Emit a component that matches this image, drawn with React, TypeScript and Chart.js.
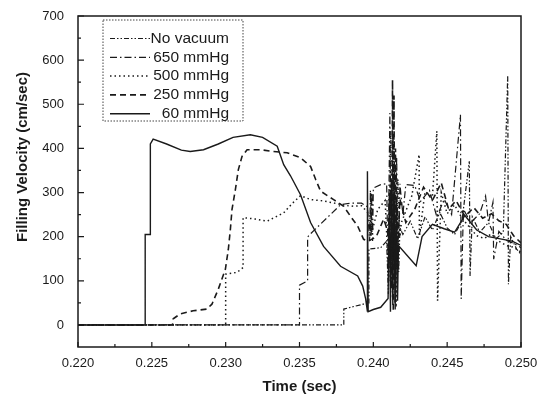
import { useEffect, useRef } from "react";
import { Chart, registerables } from "chart.js";

Chart.register(...registerables);

const FONT = '"Liberation Sans", Arial, Helvetica, sans-serif';
const INK = "#1a1a1a";

const X_TITLE = "Time (sec)";
const Y_TITLE = "Filling Velocity (cm/sec)";
const X_TICKS = [0.22, 0.225, 0.23, 0.235, 0.24, 0.245, 0.25];
const Y_TICKS = [0, 100, 200, 300, 400, 500, 600, 700];
const SERIES_LABELS = ["No vacuum", "650 mmHg", "500 mmHg", "250 mmHg", "60 mmHg"];

const NO_VACUUM: [number, number][] = [
  [0.22, 0], [0.238, 0], [0.238, 36], [0.2393, 47], [0.2397, 47], [0.2397, 172], [0.2405, 175],
  [0.2409, 190], [0.24102, 70], [0.24114, 320], [0.24126, 90], [0.24138, 290], [0.2415, 60],
  [0.24162, 260], [0.24172, 120], [0.2418, 220], [0.242, 205], [0.2425, 235], [0.243, 195],
  [0.2435, 245], [0.244, 215], [0.2445, 255], [0.245, 220], [0.2455, 205], [0.246, 235],
  [0.2465, 371], [0.24655, 111], [0.2467, 245], [0.2472, 210], [0.2478, 232], [0.2483, 195],
  [0.2488, 210], [0.2491, 565], [0.24915, 92], [0.2493, 200], [0.2497, 172], [0.25, 160],
];

const MMHG_650: [number, number][] = [
  [0.22, 0], [0.235, 0], [0.235, 90], [0.23555, 100], [0.23555, 199], [0.2357, 205], [0.2378, 273],
  [0.2385, 276], [0.2392, 276], [0.2396, 268], [0.23975, 190], [0.2398, 305], [0.23985, 200],
  [0.2399, 300], [0.23995, 190], [0.24, 310], [0.2405, 318], [0.2409, 320], [0.241, 140],
  [0.24112, 480], [0.24122, 80], [0.24134, 420], [0.24146, 50], [0.24158, 380], [0.24168, 150],
  [0.2418, 320], [0.242, 250], [0.2422, 318], [0.2428, 316], [0.2432, 280], [0.2438, 305],
  [0.2443, 245], [0.2448, 285], [0.2453, 250], [0.2459, 476], [0.24595, 59], [0.2461, 262],
  [0.2466, 232], [0.2472, 252], [0.2476, 292], [0.2478, 232], [0.2481, 278], [0.24815, 149],
  [0.2485, 212], [0.249, 192], [0.2495, 185], [0.25, 175],
];

const MMHG_500: [number, number][] = [
  [0.22, 0], [0.23, 0], [0.23, 115], [0.23077, 119], [0.23118, 130], [0.23118, 243], [0.232, 240],
  [0.23281, 235], [0.2334, 245], [0.23393, 254], [0.2345, 275], [0.23507, 293], [0.23575, 284],
  [0.23663, 281], [0.23778, 273], [0.23846, 269], [0.2392, 270], [0.23975, 250], [0.2398, 200],
  [0.23985, 300], [0.2399, 210], [0.2403, 262], [0.2408, 282], [0.24105, 100], [0.24118, 440],
  [0.2413, 60], [0.24142, 360], [0.24154, 40], [0.24166, 330], [0.2418, 200], [0.2419, 232],
  [0.2422, 258], [0.2426, 292], [0.2431, 386], [0.24312, 201], [0.2435, 302], [0.244, 290],
  [0.2443, 439], [0.24435, 55], [0.2446, 300], [0.245, 252], [0.2455, 272], [0.246, 242],
  [0.2465, 222], [0.247, 202], [0.2475, 196], [0.248, 206], [0.2485, 190], [0.249, 180],
  [0.2495, 176], [0.25, 165],
];

const MMHG_250: [number, number][] = [
  [0.22, 0], [0.2264, 0], [0.22645, 14], [0.22692, 25], [0.2278, 32], [0.22873, 36], [0.22907, 47],
  [0.2295, 81], [0.22998, 126], [0.23018, 171], [0.23032, 217], [0.23043, 262], [0.23066, 307],
  [0.23086, 352], [0.23111, 382], [0.23145, 397], [0.23235, 397], [0.23323, 393], [0.23416, 390],
  [0.23507, 379], [0.23575, 359], [0.23609, 330], [0.23643, 303], [0.23731, 284], [0.23799, 269],
  [0.23846, 246], [0.23894, 224], [0.23934, 194], [0.23968, 190], [0.2402, 200], [0.2407, 240],
  [0.241, 210], [0.2412, 300], [0.24125, 150], [0.2413, 555], [0.24135, 30], [0.2414, 520],
  [0.24145, 100], [0.2415, 400], [0.2416, 130], [0.2418, 285], [0.2422, 232], [0.2428, 262],
  [0.2434, 312], [0.244, 282], [0.2446, 322], [0.2451, 262], [0.2456, 282], [0.2462, 246],
  [0.2468, 266], [0.2474, 242], [0.248, 252], [0.2485, 236], [0.249, 228], [0.2495, 202],
  [0.25, 186],
];

const MMHG_60: [number, number][] = [
  [0.22, 0], [0.22455, 0], [0.22455, 205], [0.2249, 205], [0.2249, 410], [0.22509, 421],
  [0.226, 410], [0.227, 396], [0.2276, 393], [0.2285, 397], [0.2295, 410], [0.2305, 425],
  [0.23167, 431], [0.2325, 425], [0.23349, 405], [0.23393, 363], [0.23439, 338], [0.23507, 295],
  [0.23575, 232], [0.23663, 178], [0.23778, 133], [0.23894, 111], [0.23928, 88], [0.23948, 59],
  [0.2396, 30], [0.2396, 348], [0.23965, 30], [0.24, 35], [0.2405, 40], [0.241, 60],
  [0.24108, 300], [0.24116, 30], [0.24124, 330], [0.24132, 45], [0.2414, 310], [0.24148, 35],
  [0.24156, 290], [0.24164, 55], [0.2417, 180], [0.2429, 134],
  [0.2433, 200], [0.244, 228], [0.2448, 218], [0.2455, 210], [0.2462, 248], [0.247, 215],
  [0.2478, 200], [0.2486, 195], [0.2494, 190], [0.25, 180],
];

const SERIES_DATA = [NO_VACUUM, MMHG_650, MMHG_500, MMHG_250, MMHG_60];
const SERIES_DASH = [[5, 2, 1.5, 2, 1.5, 2], [7, 3, 1.5, 3], [1.5, 3], [6, 4], []];
const SERIES_WIDTH = [1.2, 1.2, 1.5, 1.6, 1.4];

const framePlugin = {
  id: "frame",
  afterDraw(chart: any) {
    const { ctx, chartArea: a, scales } = chart;
    const xs = scales.x;
    const ys = scales.y;
    ctx.save();
    ctx.setLineDash([]);
    ctx.strokeStyle = INK;
    ctx.lineWidth = 1.5;
    ctx.strokeRect(a.left, a.top, a.right - a.left, a.bottom - a.top);

    // inward ticks
    ctx.lineWidth = 1.2;
    ctx.beginPath();
    X_TICKS.forEach((v, i) => {
      const px = xs.getPixelForValue(v);
      ctx.moveTo(px, a.bottom);
      ctx.lineTo(px, a.bottom - 5);
      if (i < X_TICKS.length - 1) {
        const mx = xs.getPixelForValue((v + X_TICKS[i + 1]) / 2);
        ctx.moveTo(mx, a.bottom);
        ctx.lineTo(mx, a.bottom - 3);
      }
    });
    Y_TICKS.forEach((v, i) => {
      const py = ys.getPixelForValue(v);
      ctx.moveTo(a.left, py);
      ctx.lineTo(a.left + 6, py);
      const mv = i < Y_TICKS.length - 1 ? (v + Y_TICKS[i + 1]) / 2 : v - 50;
      const my = ys.getPixelForValue(i < Y_TICKS.length - 1 ? mv : v - 50);
      ctx.moveTo(a.left, my);
      ctx.lineTo(a.left + 3, my);
    });
    ctx.stroke();

    // axis titles
    ctx.fillStyle = INK;
    ctx.font = `bold 15px ${FONT}`;
    ctx.textAlign = "center";
    ctx.textBaseline = "middle";
    ctx.fillText(X_TITLE, (a.left + a.right) / 2, a.bottom + 40);
    ctx.save();
    ctx.translate(a.left - 55, a.top + 141);
    ctx.rotate(-Math.PI / 2);
    ctx.fillText(Y_TITLE, 0, 0);
    ctx.restore();

    // legend
    const bx = a.left + 25;
    const by = a.top + 4;
    const bw = 140;
    const bh = 101;
    ctx.fillStyle = "#ffffff";
    ctx.fillRect(bx, by, bw, bh);
    ctx.strokeStyle = "#444";
    ctx.lineWidth = 1;
    ctx.setLineDash([1.5, 1.5]);
    ctx.strokeRect(bx, by, bw, bh);
    ctx.font = `15.5px ${FONT}`;
    ctx.textAlign = "right";
    chart.data.datasets.forEach((ds: any, i: number) => {
      const cy = by + 18.5 + i * 18.8;
      ctx.strokeStyle = INK;
      ctx.lineWidth = ds.borderWidth;
      ctx.setLineDash(ds.borderDash || []);
      ctx.beginPath();
      ctx.moveTo(bx + 7, cy);
      ctx.lineTo(bx + 47, cy);
      ctx.stroke();
      ctx.fillStyle = INK;
      ctx.fillText(ds.label, bx + 126, cy);
    });
    ctx.restore();
  },
};

export default function App() {
  const ref = useRef<HTMLCanvasElement | null>(null);

  useEffect(() => {
    document.body.style.margin = "0";
    const canvas = ref.current;
    if (!canvas) return;
    const chart = new Chart(canvas, {
      type: "scatter",
      data: {
        datasets: SERIES_DATA.map((pts, i) => ({
          label: SERIES_LABELS[i],
          data: pts.map(([x, y]) => ({ x, y })),
          showLine: true,
          borderColor: INK,
          backgroundColor: INK,
          borderWidth: SERIES_WIDTH[i],
          borderDash: SERIES_DASH[i],
          pointRadius: 0,
          pointHoverRadius: 0,
          tension: 0,
        })),
      },
      options: {
        responsive: false,
        animation: false,
        events: [],
        layout: { padding: { left: 0, right: 21, top: 16, bottom: 0 } },
        plugins: { legend: { display: false }, tooltip: { enabled: false }, title: { display: false } },
        scales: {
          x: {
            type: "linear",
            min: 0.22,
            max: 0.25,
            grid: { display: false },
            border: { display: false },
            afterBuildTicks: (scale: any) => {
              scale.ticks = X_TICKS.map((v) => ({ value: v }));
            },
            afterFit: (scale: any) => {
              scale.height = 50;
            },
            ticks: {
              padding: 1,
              maxRotation: 0,
              autoSkip: false,
              color: INK,
              font: { family: FONT, size: 13 },
              callback: (v: any) => Number(v).toFixed(3),
            },
          },
          y: {
            type: "linear",
            min: -50,
            max: 700,
            grid: { display: false },
            border: { display: false },
            afterBuildTicks: (scale: any) => {
              scale.ticks = Y_TICKS.map((v) => ({ value: v }));
            },
            afterFit: (scale: any) => {
              scale.width = 78;
            },
            ticks: {
              padding: 6,
              autoSkip: false,
              color: INK,
              font: { family: FONT, size: 13 },
              callback: (v: any) => String(v),
            },
          },
        },
      },
      plugins: [framePlugin],
    });
    return () => chart.destroy();
  }, []);

  return (
    <div style={{ width: 542, height: 397, background: "#fff" }}>
      <canvas ref={ref} width={542} height={397} style={{ display: "block" }} />
    </div>
  );
}
